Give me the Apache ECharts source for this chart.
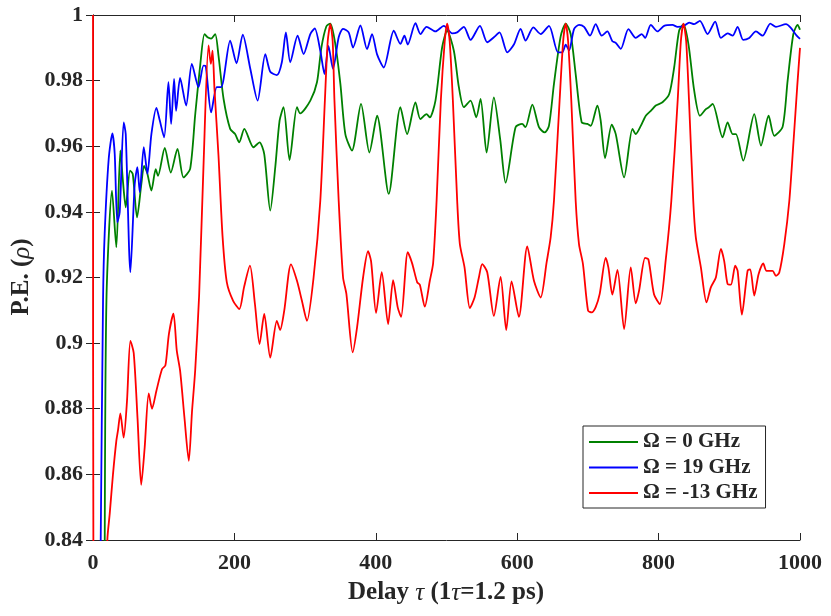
<!DOCTYPE html>
<html>
<head>
<meta charset="utf-8">
<script src="https://cdn.jsdelivr.net/npm/echarts@6/dist/echarts.min.js"></script>
<style>
  html, body { margin: 0; padding: 0; background: #fff; }
  #chart { width: 831px; height: 616px; }
</style>
</head>
<body>
<div id="chart"></div>
<script>
// legend names
var names = ['Ω = 0 GHz', 'Ω = 19 GHz', 'Ω = -13 GHz']

// Ω = 0 GHz  [delay, P.E.]
var omega0 = [
  [16.5,0.83],[19,0.913],[26.9,0.9465],[33,0.9292],[38.7,0.9587],[42.5,0.949],[46.3,0.9414],
  [52.4,0.9526],[56.2,0.9516],[62.3,0.9383],[68.4,0.9485],[72.2,0.954],[76.5,0.952],[82.6,0.9465],
  [88.7,0.953],[92,0.951],[101.5,0.9595],[110,0.952],[119.5,0.9592],[128,0.9505],[137.4,0.9531],
  [144.5,0.9695],[151.6,0.9846],[157.7,0.9942],[162,0.9932],[167,0.9928],[172.8,0.9942],[177.5,0.9876],
  [184.7,0.9744],[194,0.9653],[201,0.9637],[206.8,0.9612],[214,0.9653],[227,0.9597],[235.5,0.9612],
  [242.2,0.9576],[250.7,0.9404],[257.8,0.9536],[263.9,0.9678],[269.5,0.9719],[278,0.9558],[288.5,0.9719],
  [293,0.970],[307.4,0.9739],[316.8,0.9795],[323,0.990],[330,0.9965],[335.7,0.9974],[342.8,0.991],
  [349.9,0.979],[356.9,0.9637],[366.3,0.9587],[379.1,0.9729],[390.9,0.9581],[401.8,0.9693],[418.3,0.9455],
  [434.8,0.9719],[444.3,0.9637],[456.1,0.9734],[463,0.9683],[471.7,0.9698],[476.4,0.9688],[484.4,0.9739],
  [493.8,0.9901],[500.9,0.9952],[510.4,0.9891],[517.5,0.978],[524.6,0.9719],[534,0.9739],[542.1,0.9688],
  [548.2,0.9744],[556.7,0.9581],[567,0.9749],[576,0.962],[583.6,0.9489],[597.7,0.9658],[607,0.9668],
  [611.7,0.9658],[621.4,0.9727],[630.8,0.9658],[638.8,0.9642],[644.9,0.9662],[652,0.979],[661.5,0.9935],
  [668.6,0.9974],[675.6,0.9942],[682.7,0.982],[691.2,0.9673],[699.3,0.9668],[704,0.9662],[713.4,0.9724],
  [718.1,0.9678],[724.3,0.9564],[733.7,0.9666],[739.4,0.9637],[751.2,0.9505],[763,0.9653],[767.7,0.9637],
  [774.8,0.9662],[781.9,0.9693],[789,0.9708],[796,0.9724],[805.5,0.9734],[815,0.9759],[822,0.984],
  [829,0.9952],[835.2,0.9972],[842.3,0.991],[850.3,0.977],[858.4,0.9693],[866.9,0.9713],[870.7,0.9718],
  [876.4,0.9729],[890.5,0.9627],[897.6,0.9673],[904.7,0.9637],[909.4,0.9637],[919.7,0.9556],[935.3,0.9698],
  [944.8,0.9602],[955.6,0.9693],[963.6,0.9632],[975.4,0.9659],[982.5,0.98],[990.6,0.9942],[996.7,0.997],
  [1000,0.9955]
]

// Ω = 19 GHz
var omega19 = [
  [10.5,0.83],[14.2,0.913],[16.5,0.9333],[22.2,0.9561],[27.4,0.9639],[30.7,0.9577],[34.4,0.9368],
  [37.8,0.940],[43.4,0.9673],[46.3,0.9637],[52.9,0.9216],[59,0.9485],[62.8,0.9536],[66.1,0.946],
  [71.8,0.9597],[77,0.9516],[82.6,0.9637],[89.7,0.9717],[94.4,0.9679],[100.6,0.9627],[106.7,0.9795],
  [110.5,0.9668],[114.7,0.9805],[117.5,0.9708],[123.2,0.9808],[131.7,0.9724],[139.8,0.9851],[149.2,0.978],
  [156.3,0.9846],[159.5,0.9844],[167.1,0.9703],[175.1,0.978],[181.2,0.978],[194,0.9922],[203,0.9853],
  [211.8,0.994],[222.4,0.9837],[232.8,0.9739],[243.7,0.9881],[250.7,0.9827],[260.1,0.9817],[267.1,0.9856],
  [272.8,0.9947],[279,0.9856],[289.4,0.9937],[297.9,0.9881],[307.4,0.9942],[313.6,0.9959],[321.5,0.9891],
  [327.5,0.982],[333,0.9906],[339.5,0.9836],[347.5,0.9932],[353.6,0.9958],[361.6,0.9947],[367.8,0.9901],
  [378.2,0.9968],[387.6,0.9896],[394.7,0.9942],[401.8,0.988],[411.2,0.984],[425.4,0.9952],[434.8,0.9912],
  [440.5,0.9937],[445.2,0.991],[456.1,0.9975],[463.2,0.9942],[471.7,0.9964],[484.4,0.995],[496.2,0.9967],
  [508,0.9944],[515,0.9947],[524.6,0.9964],[534,0.9924],[547.3,0.9967],[557.6,0.9917],[567,0.9932],
  [575,0.9947],[586,0.9886],[595.3,0.991],[604.8,0.9958],[611.9,0.9922],[622.8,0.9962],[633.2,0.9942],
  [645,0.9967],[657.7,0.9886],[663.8,0.9886],[668.6,0.991],[673.3,0.9892],[680.4,0.9957],[687.5,0.997],
  [694.6,0.9964],[703,0.9937],[711,0.9972],[719.5,0.9937],[727.5,0.995],[734.6,0.992],[739.4,0.9915],
  [746.5,0.9897],[757.3,0.9957],[767.7,0.993],[776.2,0.9942],[780.9,0.993],[789,0.997],[798.4,0.995],
  [807.8,0.9967],[819.6,0.997],[826.7,0.9964],[836.1,0.9967],[843.2,0.9977],[850.3,0.9972],[858.4,0.9982],
  [869.2,0.9942],[880,0.998],[888.1,0.993],[897.6,0.9944],[904.7,0.9937],[911.8,0.9964],[919.7,0.9924],
  [928.2,0.993],[937.6,0.995],[947.1,0.9937],[958,0.9974],[966,0.9964],[980.2,0.9972],[987.3,0.996],
  [995.3,0.9937],[1000,0.9927]
]

// Ω = -13 GHz
var omegaM13 = [
  [0,1.0],[0.8,0.80],[18,0.80],[20.3,0.84],[23.6,0.8479],[28.3,0.8601],[33,0.8702],[35.4,0.8735],
  [38.7,0.8786],[43.4,0.8712],[48.1,0.8824],[52.9,0.9007],[57.6,0.897],[63,0.877],[68.2,0.8568],
  [73.1,0.8682],[78.8,0.8847],[83.5,0.88],[89.7,0.8855],[97.7,0.8921],[102.4,0.8932],[107.4,0.9028],
  [113.8,0.909],[118.5,0.8977],[123.2,0.8916],[129.3,0.8774],[135.5,0.8641],[140,0.879],[144.5,0.8916],
  [150.1,0.9145],[156.3,0.9541],[163.4,0.9907],[166.7,0.9851],[169.1,0.9891],[171.8,0.9775],[177.5,0.9571],
  [183.2,0.9327],[189.3,0.9185],[198.2,0.9129],[207,0.9104],[213.6,0.917],[222,0.9236],[229,0.912],
  [235.6,0.8997],[242.2,0.9089],[250.7,0.8956],[260,0.9068],[264.7,0.904],[270.5,0.9099],[280,0.924],
  [288.5,0.919],[295.5,0.9129],[302.6,0.9068],[312,0.92],[321.5,0.9434],[328,0.974],[332,0.992],
  [335.7,0.9972],[339,0.992],[341.5,0.974],[347.5,0.9434],[353.7,0.92],[358.4,0.915],[367.3,0.8972],
  [373.5,0.9048],[382,0.92],[389,0.928],[393.3,0.925],[400.4,0.9092],[408.4,0.9216],[417.4,0.9058],
  [424.5,0.9192],[431,0.9109],[435.8,0.908],[445.2,0.9277],[451.4,0.9243],[458.6,0.9185],[462.3,0.9178],
  [469.3,0.9111],[476.4,0.919],[481.1,0.9244],[486,0.9434],[492,0.974],[497.5,0.992],[500.9,0.9974],
  [504.5,0.992],[509,0.974],[515.1,0.9434],[518.9,0.9302],[525.5,0.9231],[533,0.9107],[539.7,0.9139],
  [545.8,0.92],[550.5,0.9241],[557.6,0.9216],[567,0.9083],[576.5,0.9202],[584.5,0.904],[592,0.9188],
  [602.4,0.908],[614.2,0.9295],[623.7,0.919],[633.2,0.9139],[641.6,0.9246],[647.3,0.9322],[652,0.9434],
  [660,0.974],[665,0.992],[668.6,0.9974],[672,0.992],[676.5,0.974],[682.7,0.9434],[687.4,0.9302],
  [693,0.9241],[700.2,0.9099],[705.4,0.9094],[711,0.911],[716.7,0.915],[725.2,0.926],[729,0.923],
  [734.6,0.9148],[741.8,0.9223],[751.2,0.9043],[760.6,0.9231],[767.7,0.9121],[772.4,0.916],[780.9,0.926],
  [785.6,0.9255],[793.6,0.9148],[801.7,0.9119],[810.2,0.9256],[818,0.9434],[827,0.974],[831.5,0.992],
  [835.2,0.9974],[839,0.992],[843,0.974],[849,0.9434],[852.6,0.9323],[859.8,0.9231],[867.8,0.9124],
  [873.9,0.917],[881,0.92],[888.1,0.9287],[892.8,0.925],[897.6,0.918],[902.3,0.9178],[908.4,0.9236],
  [911.8,0.922],[917.8,0.9087],[925.9,0.9221],[929.6,0.9225],[935.3,0.9145],[941.4,0.921],[948,0.9243],
  [952.7,0.922],[961.2,0.922],[966,0.9205],[970.7,0.9215],[977.8,0.9302],[984.9,0.9434],[991,0.962],
  [996,0.978],[1000,0.99]
]

var colors = ['#008000', '#0000ff', '#ff0000']

var font = 'Liberation Serif, Times New Roman, serif'
var ink = '#262626'

var chart = echarts.init(document.getElementById('chart'))

function sideAxis(type, pos) {
  return {
    type: 'value', position: pos,
    min: type == 'x' ? 0 : 0.84, max: type == 'x' ? 1000 : 1,
    interval: type == 'x' ? 200 : 0.02,
    axisLine: { show: true, lineStyle: { color: ink, width: 1 } },
    axisTick: { show: true, inside: true, length: 7, lineStyle: { color: ink } },
    axisLabel: { show: false },
    splitLine: { show: false }
  }
}

// axis titles drawn as text, with the Greek letters in italic
function title(text, x, y, rot) {
  return {
    type: 'text', x: x, y: y, rotation: rot, silent: true,
    style: {
      text: text, fill: ink, align: 'center', verticalAlign: 'middle',
      fontFamily: font, fontWeight: 'bold', fontSize: 25,
      rich: { i: { fontFamily: font, fontStyle: 'italic', fontWeight: 'normal', fontSize: 25, fill: ink } }
    }
  }
}

var option = {
  backgroundColor: '#fff',
  animation: false,
  grid: { left: 93, right: 31, top: 15, bottom: 76, containLabel: false, outerBoundsMode: 'none' },
  graphic: [
    title('Delay {i|τ} (1{i|τ}=1.2 ps)', 446, 593, 0),
    title('P.E. ({i|ρ})', 22, 277, Math.PI / 2)
  ],
  legend: {
    orient: 'vertical', left: 583, top: 426,
    data: names,
    icon: 'rect', itemWidth: 49, itemHeight: 2, itemGap: 3.5,
    padding: [5, 8, 4, 6],
    borderColor: ink, borderWidth: 1, backgroundColor: '#fff',
    textStyle: { fontFamily: font, fontWeight: 'bold', fontSize: 21, color: ink, lineHeight: 22 }
  },
  xAxis: [{
    type: 'value', min: 0, max: 1000, interval: 200,
    axisLine: { show: true, lineStyle: { color: ink, width: 1 } },
    axisTick: { show: true, inside: true, length: 7, lineStyle: { color: ink } },
    axisLabel: {
      margin: 12, fontFamily: font, fontWeight: 'bold', fontSize: 22, color: ink,
      formatter: function (v) { return String(v) }
    },
    splitLine: { show: false }
  }, sideAxis('x', 'top')],
  yAxis: [{
    type: 'value', min: 0.84, max: 1, interval: 0.02,
    axisLine: { show: true, lineStyle: { color: ink, width: 1 } },
    axisTick: { show: true, inside: true, length: 7, lineStyle: { color: ink } },
    axisLabel: {
      margin: 10, fontFamily: font, fontWeight: 'bold', fontSize: 22, color: ink,
      formatter: function (v) { return String(+v.toFixed(2)) }
    },
    splitLine: { show: false }
  }, sideAxis('y', 'right')],
  series: [omega0, omega19, omegaM13].map(function (d, i) {
    return {
      name: names[i], type: 'line', data: d,
      xAxisIndex: 0, yAxisIndex: 0,
      showSymbol: false, smooth: 0.25,
      color: colors[i],
      lineStyle: { color: colors[i], width: 1.8 }
    }
  })
}

chart.setOption(option)
</script>
</body>
</html>
